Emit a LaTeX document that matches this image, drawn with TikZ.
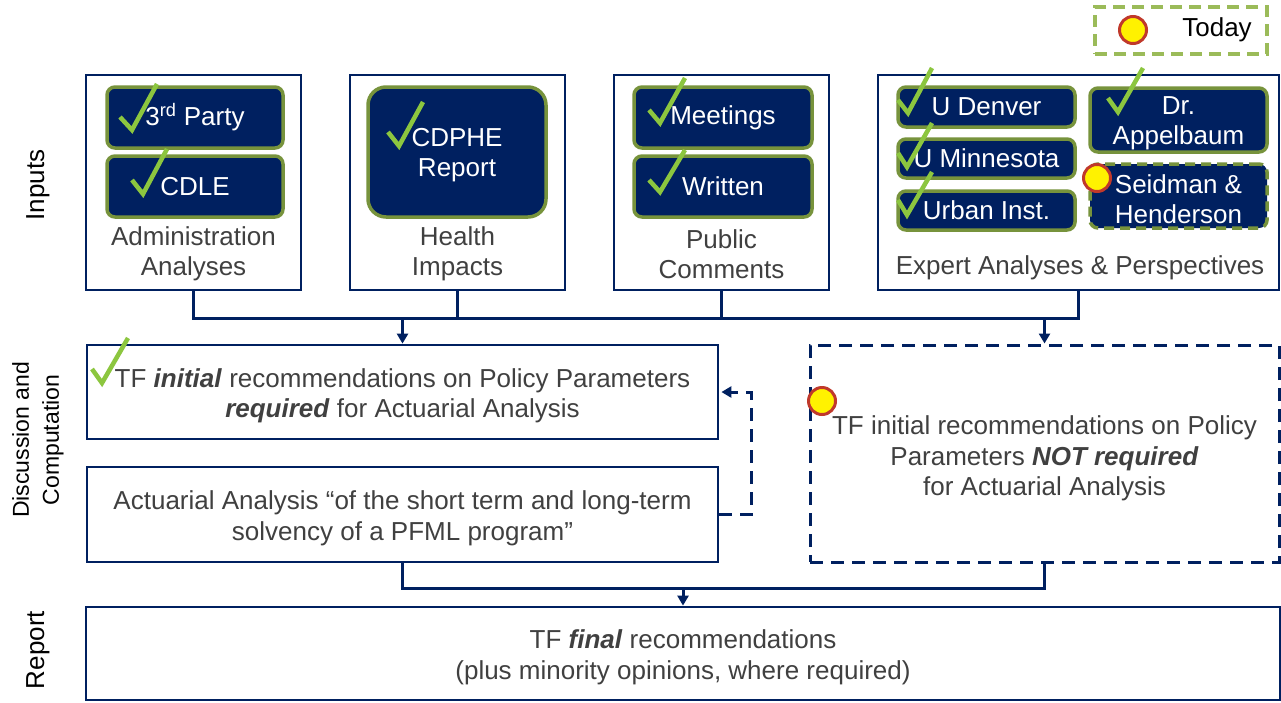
\documentclass[tikz,border=0pt]{standalone}
\usepackage{fontspec}
\setmainfont{Liberation Sans}
\usetikzlibrary{arrows.meta}
\definecolor{navy}{HTML}{002060}
\definecolor{olive}{HTML}{77933C}
\definecolor{chk}{HTML}{8CC63F}
\definecolor{lgreen}{HTML}{9BBB59}
\definecolor{txt}{HTML}{404040}
\definecolor{dotred}{HTML}{C0392B}
\newcommand{\fsz}{\fontsize{26}{30.5}\selectfont}
\newcommand{\fsm}{\fontsize{23}{30}\selectfont}
\begin{document}
\begin{tikzpicture}[x=1pt,y=-1pt,
 outerbox/.style={draw=navy, line width=2.8pt, fill=white, inner sep=0pt},
 boxtext/.style={text=txt, font=\fsz, align=center, inner sep=0pt, yshift=-4pt},
 innerbox/.style={draw=olive, line width=3.5pt, fill=navy, rounded corners=8pt, text=white, font=\fsz, align=center, inner sep=0pt},
 intext/.style={text=white, font=\fsz, align=center, inner sep=0pt, yshift=-3pt},
 lbl/.style={text=txt, font=\fsz, align=center, inner sep=0pt},
 side/.style={align=center, rotate=90, inner sep=0pt},
 conn/.style={draw=navy, line width=3pt},
 tip/.style={-{Triangle[length=10pt,width=11pt]}},
 dashnavy/.style={dash pattern=on 13pt off 8pt},
 chkmark/.style={draw=chk, line width=4.5pt},
 dot/.style={circle, fill=yellow, draw=dotred, line width=3pt, minimum size=27pt, inner sep=0pt},
]
\useasboundingbox (0,0) rectangle (1281,702);

% side labels
\node[side, font=\fsz] (sinputs) at (38,185) {Inputs};
\node[side, font=\fsm] (sdisc) at (38,440) {Discussion and\\Computation};
\node[side, font=\fsz] (sreport) at (38,650) {Report};

% outer input boxes
\node[outerbox, minimum width=215pt, minimum height=215pt] (admin) at (193.5,182.5) {};
\node[outerbox, minimum width=215pt, minimum height=215pt] (health) at (457.5,182.5) {};
\node[outerbox, minimum width=215pt, minimum height=215pt] (public) at (721.5,182.5) {};
\node[outerbox, minimum width=401pt, minimum height=215pt] (expert) at (1078.5,182.5) {};

\node[lbl] (ladmin) at (193.5,254) {Administration\\Analyses};
\node[lbl] (lhealth) at (457.5,254) {Health\\Impacts};
\node[lbl] (lpublic) at (721.5,254) {Public\\Comments};
\node[lbl] (lexpert) at (1080,268) {Expert Analyses \& Perspectives};

% inner boxes
\node[innerbox, minimum width=176pt, minimum height=61pt] (party) at (195,117.5) {3\textsuperscript{rd} Party};
\node[innerbox, minimum width=176pt, minimum height=61pt] (cdle) at (195,186.5) {CDLE};
\node[innerbox, rounded corners=18pt, minimum width=178pt, minimum height=130pt,
      label={[intext]center:CDPHE\\Report}] (cdphe) at (457,152) {};
\node[innerbox, minimum width=178pt, minimum height=61pt] (meet) at (723,117.5) {Meetings};
\node[innerbox, minimum width=178pt, minimum height=61pt] (writ) at (723,186.5) {Written};
\node[innerbox, minimum width=177pt, minimum height=40pt] (uden) at (986.5,107) {U Denver};
\node[innerbox, minimum width=177pt, minimum height=39pt] (umin) at (986.5,158.5) {U Minnesota};
\node[innerbox, minimum width=177pt, minimum height=39pt] (urban) at (986.5,210.5) {Urban Inst.};
\node[innerbox, minimum width=177pt, minimum height=64pt,
      label={[intext]center:Dr.\\Appelbaum}] (appel) at (1178.5,120) {};
\node[innerbox, dash pattern=on 10pt off 6pt, minimum width=177pt, minimum height=64pt,
      label={[intext]center:Seidman \&\\Henderson}] (seid) at (1178.5,196) {};

% legend
\node[draw=lgreen, line width=3.5pt, dash pattern=on 12pt off 7pt, minimum width=172pt, minimum height=47pt, inner sep=0pt] (today) at (1181,30.5) {};
\node[dot] (dtoday) at (1133,30) {};
\node[font=\fsz, inner sep=0pt] (ttoday) at (1217,30) {Today};

% middle row
\node[outerbox, minimum width=631pt, minimum height=94pt,
  label={[boxtext]center:TF \textbf{\textit{initial}} recommendations on Policy Parameters\\\textbf{\textit{required}} for Actuarial Analysis}] (tfinit) at (402.5,392) {};
\node[outerbox, minimum width=631pt, minimum height=95pt,
  label={[boxtext]center:Actuarial Analysis “of the short term and long-term\\solvency of a PFML program”}] (actuar) at (402.5,514.5) {};
\node[outerbox, dashnavy, line width=3pt, minimum width=469pt, minimum height=217pt,
  label={[boxtext, yshift=-1pt]center:TF initial recommendations on Policy\\Parameters \textbf{\textit{NOT required}}\\for Actuarial Analysis}] (notreq) at (1044.5,453.5) {};

% final
\node[outerbox, minimum width=1194pt, minimum height=93pt,
  label={[boxtext]center:TF \textbf{\textit{final}} recommendations\\(plus minority opinions, where required)}] (final) at (683,653.5) {};

% connectors
\coordinate (jt) at (0,318);
\coordinate (jb) at (0,588);
\draw[conn] (admin.south) -- (admin.south |- jt) -- (expert.south |- jt) -- (expert.south);
\draw[conn] (health.south) -- (health.south |- jt);
\draw[conn] (public.south) -- (public.south |- jt);
\draw[conn,tip] (tfinit.north |- jt) -- (tfinit.north);
\draw[conn,tip] (notreq.north |- jt) -- (notreq.north);
\draw[conn,dashnavy,tip] (actuar.east) -- ++(32,0) |- ([xshift=2pt]tfinit.east);
\draw[conn] (actuar.south) -- (actuar.south |- jb) -- (notreq.south |- jb) -- (notreq.south);
\draw[conn,tip] (final.north |- jb) -- (final.north);

% check marks
\draw[chkmark] (120,117) -- (132,130) -- (157,84);
\draw[chkmark] (132,180) -- (143,194) -- (167,149);
\draw[chkmark] (388,132) -- (399,146) -- (423,102);
\draw[chkmark] (649,110) -- (660,123) -- (685,78);
\draw[chkmark] (649,180) -- (660,192) -- (685,150);
\draw[chkmark] (898,100) -- (908,113) -- (932,68);
\draw[chkmark] (898,153) -- (907,167) -- (932,123);
\draw[chkmark] (898,200) -- (907,215) -- (932,172);
\draw[chkmark] (1108,98) -- (1118,112) -- (1143,68);
\draw[chkmark] (92,369) -- (102,383) -- (128,338);

% markers
\node[dot] (dseid) at (1097,178) {};
\node[dot] (dnot) at (822,401) {};
\end{tikzpicture}
\end{document}
